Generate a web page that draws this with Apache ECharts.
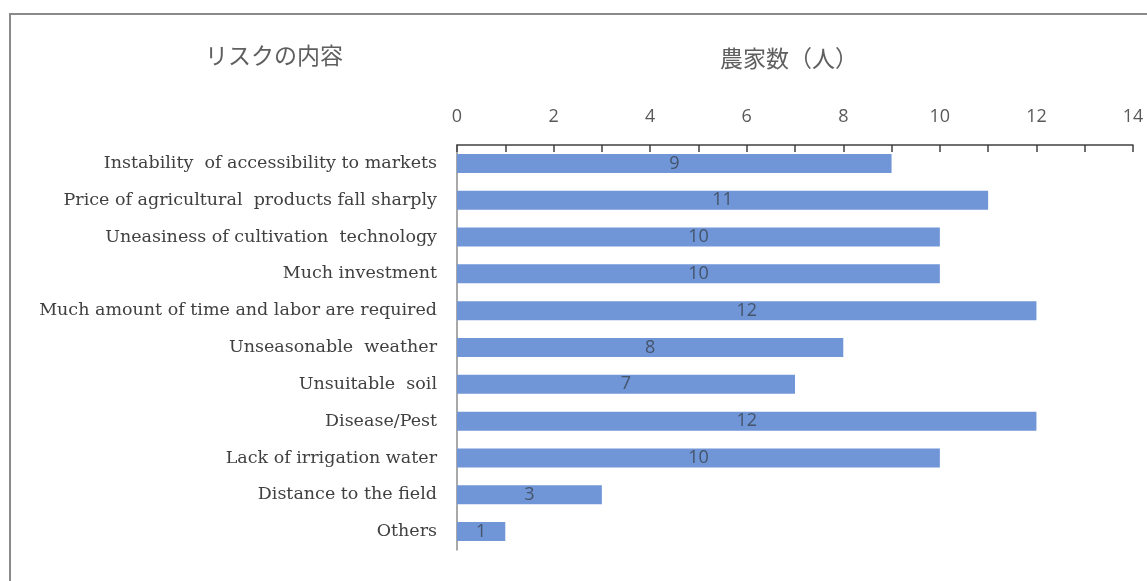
<!DOCTYPE html>
<html>
<head>
<meta charset="utf-8">
<script src="https://cdn.jsdelivr.net/npm/echarts@6/dist/echarts.min.js"></script>
<style>
  html, body { margin: 0; padding: 0; background: #ffffff; }
  #chart { width: 1147px; height: 581px; }
</style>
</head>
<body>
<div id="chart"></div>
<script>
// Risk categories, listed top to bottom
const categories = [
  'Instability  of accessibility to markets',
  'Price of agricultural  products fall sharply',
  'Uneasiness of cultivation  technology',
  'Much investment',
  'Much amount of time and labor are required',
  'Unseasonable  weather',
  'Unsuitable  soil',
  'Disease/Pest',
  'Lack of irrigation water',
  'Distance to the field',
  'Others'
];
// Number of farmers citing each risk
const farmerCounts = [9, 11, 10, 10, 12, 8, 7, 12, 10, 3, 1];
const valueAxisTitle = '農家数（人）';
const categoryAxisTitle = 'リスクの内容';

const chart = echarts.init(document.getElementById('chart'), null, { renderer: 'canvas' });

chart.setOption({
  backgroundColor: '#ffffff',
  animation: false,
  grid: { left: 457, right: 14, top: 145, bottom: 31 },
  graphic: [
    {
      type: 'rect',
      shape: { x: 10, y: 14, width: 1150, height: 580 },
      style: { fill: 'none', stroke: '#8a8a8a', lineWidth: 2 }
    },
    {
      type: 'text',
      left: 205, top: 44,
      style: {
        text: categoryAxisTitle,
        font: '23px "Noto Sans CJK JP"',
        fill: '#5f5f5f'
      }
    },
    {
      type: 'text',
      left: 720, top: 47,
      style: {
        text: valueAxisTitle,
        font: '23px "Noto Sans CJK JP"',
        fill: '#5f5f5f'
      }
    }
  ],
  xAxis: {
    type: 'value',
    position: 'top',
    min: 0,
    max: 14,
    interval: 2,
    axisLine: { show: true, lineStyle: { color: '#404040', width: 1.5 } },
    axisTick: { show: true, inside: true, length: 7, lineStyle: { color: '#404040', width: 1.5 } },
    minorTick: { show: true, splitNumber: 2, length: 7, lineStyle: { color: '#404040', width: 1.5 } },
    splitLine: { show: false },
    axisLabel: {
      margin: 19,
      color: '#595959',
      fontFamily: 'Open Sans',
      fontSize: 18
    }
  },
  yAxis: {
    type: 'category',
    data: categories,
    inverse: true,
    axisLine: { show: true, lineStyle: { color: '#8c8c8c', width: 1.5 } },
    axisTick: { show: false },
    axisLabel: {
      margin: 20,
      color: '#404040',
      fontFamily: 'DejaVu Serif',
      fontSize: 17.5
    }
  },
  series: [{
    type: 'bar',
    data: farmerCounts,
    barWidth: 19,
    itemStyle: { color: '#7096d8' },
    label: {
      show: true,
      position: 'inside',
      color: '#44546a',
      fontFamily: 'Open Sans',
      fontSize: 18
    }
  }]
});
</script>
</body>
</html>
